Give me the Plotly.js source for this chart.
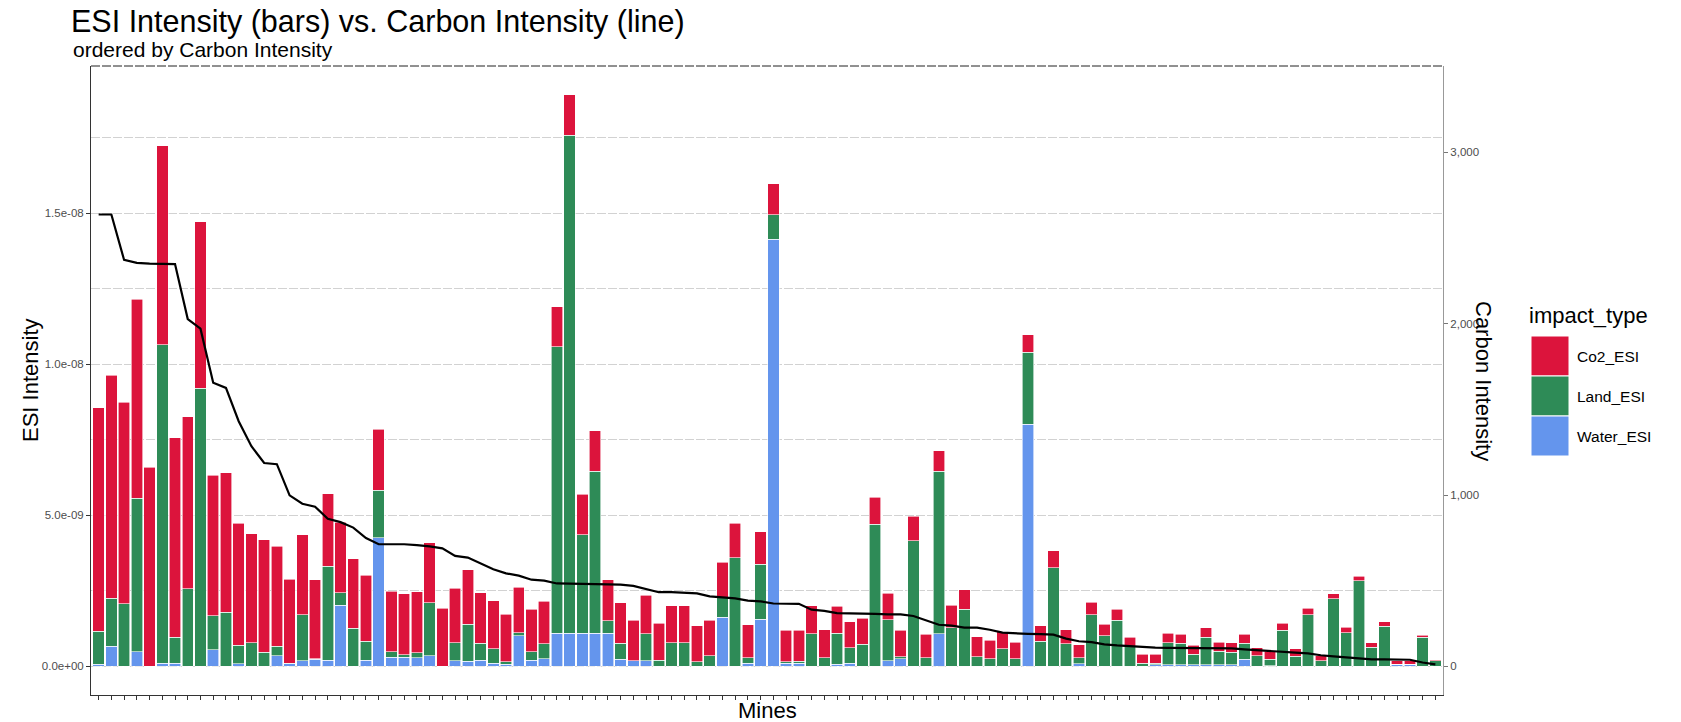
<!DOCTYPE html>
<html>
<head>
<meta charset="utf-8">
<script src="https://cdn.plot.ly/plotly-3.0.1.min.js"></script>
<style>
html, body { margin: 0; padding: 0; background: #ffffff; }
#chart { width: 1681px; height: 722px; }
</style>
</head>
<body>
<div id="chart"></div>
<script>
// ---- Data (ESI values in units of 1e-9, ordered by carbon intensity) ----
const mines = [1,2,3,4,5,6,7,8,9,10,11,12,13,14,15,16,17,18,19,20,21,22,23,24,25,26,27,28,29,30,
  31,32,33,34,35,36,37,38,39,40,41,42,43,44,45,46,47,48,49,50,51,52,53,54,55,56,57,58,59,60,
  61,62,63,64,65,66,67,68,69,70,71,72,73,74,75,76,77,78,79,80,81,82,83,84,85,86,87,88,89,90,
  91,92,93,94,95,96,97,98,99,100,101,102,103,104,105,106];

const co2_esi = [7.39,7.39,6.67,6.58,6.59,6.58,6.59,5.69,5.52,4.66,
  4.60,4.04,3.60,3.72,3.32,2.79,2.64,2.61,2.41,2.34,
  2.29,2.17,2.02,2.01,2.01,2.01,1.99,1.93,1.79,1.80,
  1.67,1.60,1.58,1.50,1.41,1.40,1.32,1.35,1.33,1.34,
  1.35,1.35,1.34,1.28,1.21,1.21,1.21,1.20,1.17,1.16,
  1.14,1.09,1.08,1.03,1.04,1.02,0.92,0.94,0.89,0.86,
  0.86,0.88,0.87,0.87,0.81,0.77,0.69,0.75,0.64,0.66,
  0.61,0.57,0.55,0.57,0.52,0.56,0.47,0.43,0.42,0.38,
  0.36,0.32,0.31,0.31,0.30,0.31,0.30,0.31,0.30,0.31,
  0.31,0.26,0.28,0.24,0.24,0.22,0.18,0.17,0.17,0.15,
  0.15,0.14,0.11,0.11,0.07,0.04];

const land_esi = [1.10,1.59,2.07,5.09,0,10.53,0.87,2.57,9.20,1.12,
  1.80,0.62,0.79,0.47,0.30,0.02,1.52,0.02,3.10,0.41,
  1.27,0.63,1.58,0.18,0.09,0.17,1.76,0,0.60,1.23,
  0.55,0.47,0.08,0.10,0.27,0.50,9.48,16.47,3.26,5.36,
  0.41,0.53,0,0.90,0.21,0.79,0.79,0.15,0.36,0.66,
  3.60,0.18,1.82,0.81,0.04,0.06,1.08,0.28,1.03,0.52,
  0.73,4.71,1.37,0.07,4.16,0.29,5.37,1.28,1.89,0.32,
  0.25,0.58,0.25,2.38,0.83,3.27,0.75,0.20,1.71,1.02,
  1.53,0.65,0.10,0.05,0.73,0.70,0.35,0.92,0.44,0.42,
  0.53,0.36,0.21,1.19,0.34,1.71,0.18,2.24,1.12,2.84,
  0.64,1.33,0,0,0.96,0.18];

const water_esi = [0.07,0.66,0,0.48,0,0.11,0.10,0,0,0.55,
  0,0.08,0,0,0.36,0.08,0.19,0.23,0.21,2.02,
  0,0.21,4.25,0.30,0.30,0.29,0.35,0,0.19,0.17,
  0.21,0.11,0.07,1.02,0.21,0.25,1.10,1.10,1.10,1.10,
  1.10,0.23,0.18,0.18,0,0,0,0,0,1.63,
  0,0.11,1.56,14.13,0.11,0.11,0,0,0.07,0.10,
  0,0,0.18,0.25,0,0,1.08,0,0,0,
  0,0,0,8.02,0,0,0,0.08,0,0,
  0,0,0,0.05,0.06,0.06,0.05,0.05,0.06,0.05,
  0.23,0,0.02,0,0,0,0,0,0,0,
  0,0,0.07,0.07,0,0];

const carbon_intensity = [2637,2637,2372,2355,2350,2350,2348,2027,1971,1655,
  1625,1431,1285,1187,1180,998,949,932,862,842,
  810,749,713,713,713,708,701,689,645,635,
  599,567,543,530,506,501,484,482,479,479,
  477,477,470,450,433,433,428,426,409,404,
  397,384,380,367,365,365,331,324,311,311,
  311,307,304,304,294,268,243,238,226,226,
  214,197,192,190,188,185,162,147,142,129,
  123,118,113,110,108,108,108,107,106,105,
  100,94,90,84,80,76,65,59,53,45,
  41,41,39,39,23,12];

const seriesNames = ['Co2_ESI', 'Land_ESI', 'Water_ESI'];
const seriesColors = {Co2_ESI: '#DC143C', Land_ESI: '#2E8B57', Water_ESI: '#6495ED'};
const yTickVals = [0, 5e-9, 1e-8, 1.5e-8];
const yTickText = ['0.0e+00', '5.0e-09', '1.0e-08', '1.5e-08'];
const yMinorVals = [2.5e-9, 7.5e-9, 1.25e-8, 1.75e-8];
const y2TickVals = [0, 1000, 2000, 3000];

// ---- Geometry helpers (pixel -> paper) ----
const W = 1681, H = 722, PL = 91, PR = 1443, PT = 66, PB = 695;
const xp = px => (px - PL) / (PR - PL);
const yp = py => (PB - py) / (PB - PT);
const UNIT = 1e-9;
const scaleE = arr => arr.map(v => v * UNIT);

function barTrace(name, vals) {
  return {
    type: 'bar', name: name, x: mines, y: scaleE(vals), yaxis: 'y',
    marker: {color: seriesColors[name], line: {color: '#ffffff', width: 0.6}},
    showlegend: false, hoverinfo: 'x+y+name'
  };
}

const traces = [
  barTrace('Water_ESI', water_esi),
  barTrace('Land_ESI', land_esi),
  barTrace('Co2_ESI', co2_esi),
  {
    type: 'scatter', mode: 'lines', name: 'Carbon Intensity',
    x: mines, y: carbon_intensity, yaxis: 'y2',
    line: {color: '#000000', width: 2.2}, showlegend: false
  }
];

const gridDash = '9px,2px';
const axisFont = {family: 'Liberation Sans, Arial, sans-serif', size: 11.5, color: '#4d4d4d'};

// custom legend (large keys as in reference)
const keyTops = [336, 376, 416];
const keyH = 40;
const shapes = [
  {type: 'line', xref: 'paper', yref: 'paper', x0: 0, x1: 1, y0: 1, y1: 1,
   line: {color: '#222222', width: 1, dash: gridDash}}
];
const annotations = [
  {text: 'ordered by Carbon Intensity', xref: 'paper', yref: 'paper', x: xp(71), y: yp(50),
   xanchor: 'left', yanchor: 'middle', showarrow: false, font: {size: 21, color: '#000'}},
  {text: 'ESI Intensity', xref: 'paper', yref: 'paper', x: xp(30), y: yp(380), textangle: -90,
   xanchor: 'center', yanchor: 'middle', showarrow: false, font: {size: 22, color: '#000'}},
  {text: 'Carbon Intensity', xref: 'paper', yref: 'paper', x: xp(1484), y: yp(381), textangle: 90,
   xanchor: 'center', yanchor: 'middle', showarrow: false, font: {size: 22, color: '#000'}},
  {text: 'Mines', xref: 'paper', yref: 'paper', x: xp(767), y: yp(710),
   xanchor: 'center', yanchor: 'middle', showarrow: false, font: {size: 22, color: '#000'}},
  {text: 'impact_type', xref: 'paper', yref: 'paper', x: xp(1527), y: yp(315),
   xanchor: 'left', yanchor: 'middle', showarrow: false, font: {size: 22, color: '#000'}}
];
seriesNames.forEach((nm, i) => {
  const top = keyTops[i];
  shapes.push({type: 'rect', xref: 'paper', yref: 'paper',
    x0: xp(1531), x1: xp(1569), y0: yp(top + keyH), y1: yp(top),
    fillcolor: seriesColors[nm], line: {color: '#ffffff', width: 1}});
  annotations.push({text: nm, xref: 'paper', yref: 'paper', x: xp(1575), y: yp(top + keyH / 2),
    xanchor: 'left', yanchor: 'middle', showarrow: false, font: {size: 15.5, color: '#000'}});
});

const layout = {
  width: W, height: H,
  margin: {l: PL, r: W - PR, t: PT, b: H - PB, pad: 0},
  paper_bgcolor: '#ffffff', plot_bgcolor: '#ffffff',
  font: {family: 'Liberation Sans, Arial, sans-serif', color: '#000000'},
  barmode: 'stack', bargap: 0.1,
  showlegend: false,
  title: {
    text: 'ESI Intensity (bars) vs. Carbon Intensity (line)',
    font: {size: 30.5, color: '#000000'},
    xref: 'container', yref: 'container',
    x: 71 / W, xanchor: 'left', y: 1 - 21 / H, yanchor: 'middle'
  },
  xaxis: {
    range: [0.4, 106.6], tickvals: mines, showticklabels: false,
    ticks: 'outside', ticklen: 4, tickwidth: 1, tickcolor: '#333333',
    showline: true, linecolor: '#333333', linewidth: 1,
    showgrid: false, zeroline: false, fixedrange: true
  },
  yaxis: {
    range: [-0.946e-9, 19.866e-9],
    tickvals: yTickVals, ticktext: yTickText,
    ticks: 'outside', ticklen: 4, tickwidth: 1, tickcolor: '#333333',
    showline: true, linecolor: '#333333', linewidth: 1,
    showgrid: true, gridcolor: '#d2d2d2', gridwidth: 1, griddash: gridDash,
    minor: {tickvals: yMinorVals, showgrid: true, gridcolor: '#d2d2d2', gridwidth: 1, griddash: gridDash, ticks: ''},
    zeroline: false, tickfont: axisFont, fixedrange: true
  },
  yaxis2: {
    overlaying: 'y', side: 'right',
    range: [-166.8, 3503.7],
    tickvals: y2TickVals, tickformat: ',',
    ticks: 'outside', ticklen: 4, tickwidth: 1, tickcolor: '#777777',
    showline: true, linecolor: '#999999', linewidth: 1,
    showgrid: false, zeroline: false, tickfont: axisFont, fixedrange: true
  },
  shapes: shapes,
  annotations: annotations
};

Plotly.newPlot('chart', traces, layout, {displayModeBar: false, staticPlot: true});
</script>
</body>
</html>
